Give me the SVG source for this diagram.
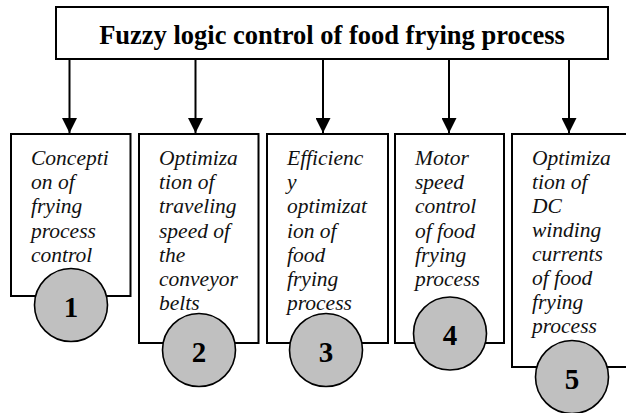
<svg xmlns="http://www.w3.org/2000/svg" width="626" height="413" viewBox="0 0 626 413">
<defs>
<marker id="arr" markerWidth="15" markerHeight="15" refX="15" refY="7.5" orient="auto" markerUnits="userSpaceOnUse">
<path d="M0,0 L15,7.5 L0,15 Z" fill="#000"/>
</marker>
<style>
.box{fill:#fff;stroke:#000;stroke-width:2}
.lbl{font-style:italic;font-size:21.5px;fill:#111}
.ttl{font-weight:bold;font-size:26.5px;fill:#000;text-anchor:middle}
.num{font-weight:bold;font-size:29px;fill:#000;text-anchor:middle}
.circ{fill:#c0c0c0;stroke:#000;stroke-width:1.6}
.con{stroke:#000;stroke-width:2;fill:none}
</style>
</defs>
<rect width="626" height="413" fill="#fff"/>
<g id="title">
<rect class="box" x="56" y="7" width="552" height="52"/>
<text class="ttl" font-family="'Liberation Serif', serif" x="332" y="44">Fuzzy logic control of food frying process</text>
</g>
<g id="connectors">
<line class="con" x1="69.5" y1="59" x2="69.5" y2="133" marker-end="url(#arr)"/>
<line class="con" x1="195.5" y1="59" x2="195.5" y2="133" marker-end="url(#arr)"/>
<line class="con" x1="323" y1="59" x2="323" y2="133" marker-end="url(#arr)"/>
<line class="con" x1="449" y1="59" x2="449" y2="133" marker-end="url(#arr)"/>
<line class="con" x1="569" y1="59" x2="569" y2="133" marker-end="url(#arr)"/>
</g>
<g id="node1" font-family="'Liberation Serif', serif">
<rect class="box" x="11" y="134" width="119.5" height="162"/>
<text class="lbl"><tspan x="31" y="165">Concepti</tspan><tspan x="31" y="189.2">on of</tspan><tspan x="31" y="213.4">frying</tspan><tspan x="31" y="237.6">process</tspan><tspan x="31" y="261.8">control</tspan></text>
<circle class="circ" cx="71" cy="305" r="36.5"/>
<text class="num" x="71" y="316.5">1</text>
</g>
<g id="node2" font-family="'Liberation Serif', serif">
<rect class="box" x="139" y="134" width="119.5" height="209"/>
<text class="lbl"><tspan x="159" y="165">Optimiza</tspan><tspan x="159" y="189.2">tion of</tspan><tspan x="159" y="213.4">traveling</tspan><tspan x="159" y="237.6">speed of</tspan><tspan x="159" y="261.8">the</tspan><tspan x="159" y="286">conveyor</tspan><tspan x="159" y="310.2">belts</tspan></text>
<circle class="circ" cx="199" cy="350" r="36.5"/>
<text class="num" x="199" y="361.5">2</text>
</g>
<g id="node3" font-family="'Liberation Serif', serif">
<rect class="box" x="267" y="134" width="121" height="209"/>
<text class="lbl"><tspan x="287" y="165">Efficienc</tspan><tspan x="287" y="189.2">y</tspan><tspan x="287" y="213.4">optimizat</tspan><tspan x="287" y="237.6">ion of</tspan><tspan x="287" y="261.8">food</tspan><tspan x="287" y="286">frying</tspan><tspan x="287" y="310.2">process</tspan></text>
<circle class="circ" cx="326" cy="350" r="36.5"/>
<text class="num" x="326" y="361.5">3</text>
</g>
<g id="node4" font-family="'Liberation Serif', serif">
<rect class="box" x="395" y="134" width="109" height="209"/>
<text class="lbl"><tspan x="415" y="165">Motor</tspan><tspan x="415" y="189.2">speed</tspan><tspan x="415" y="213.4">control</tspan><tspan x="415" y="237.6">of food</tspan><tspan x="415" y="261.8">frying</tspan><tspan x="415" y="286">process</tspan></text>
<circle class="circ" cx="450" cy="333.5" r="36.5"/>
<text class="num" x="450" y="345">4</text>
</g>
<g id="node5" font-family="'Liberation Serif', serif">
<rect class="box" x="512" y="134" width="130" height="233"/>
<text class="lbl"><tspan x="532" y="165">Optimiza</tspan><tspan x="532" y="189">tion of</tspan><tspan x="532" y="213">DC</tspan><tspan x="532" y="237">winding</tspan><tspan x="532" y="261">currents</tspan><tspan x="532" y="285">of food</tspan><tspan x="532" y="309">frying</tspan><tspan x="532" y="333">process</tspan></text>
<circle class="circ" cx="572" cy="377" r="36.5"/>
<text class="num" x="572" y="388.5">5</text>
</g>
</svg>
